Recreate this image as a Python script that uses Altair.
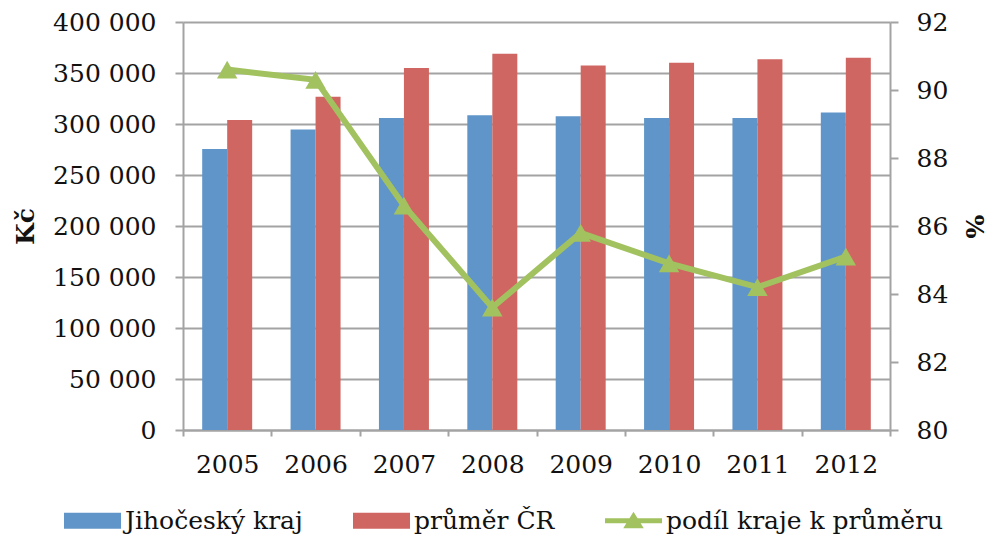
import altair as alt
import pandas as pd

years = ["2005", "2006", "2007", "2008", "2009", "2010", "2011", "2012"]
jihocesky = [275500, 294700, 306000, 308500, 307500, 306000, 306000, 311200]
prumer_cr = [304000, 326600, 354800, 368900, 357400, 360000, 363600, 365000]
podil = [90.6, 90.3, 86.6, 83.6, 85.8, 84.9, 84.2, 85.1]
series_names = ["Jihočeský kraj", "průměr ČR", "podíl kraje k průměru"]
colors = ["#6095C9", "#CF6661", "#A2C260"]
left_ticks = list(range(0, 400001, 50000))
right_ticks = [80, 82, 84, 86, 88, 90, 92]

bars_df = pd.DataFrame(
    [{"year": y, "series": series_names[0], "value": v} for y, v in zip(years, jihocesky)]
    + [{"year": y, "series": series_names[1], "value": v} for y, v in zip(years, prumer_cr)]
)
line_df = pd.DataFrame({"year": years, "series": series_names[2], "value": podil})

FONT = "DejaVu Serif"
GRAY = "#A3A3A3"

rect_path = "M-1,-0.28L1,-0.28L1,0.28L-1,0.28Z"
line_path = "M-1,-0.09L1,-0.09L1,0.09L-1,0.09Z M0,-0.32L0.36,0.26L-0.36,0.26Z"

legend = alt.Legend(
    title=None,
    orient="none",
    legendX=-119,
    legendY=470,
    direction="horizontal",
    columns=3,
    columnPadding=50,
    symbolSize=3249,
    symbolStrokeWidth=0,
    symbolOpacity=1,
    symbolType={"expr": "datum.index === 2 ? '" + line_path + "' : '" + rect_path + "'"},
    symbolFillColor={"expr": "scale('color', datum.value)"},
    labelOffset=4,
    labelFont=FONT,
    labelFontSize=25,
    labelColor="#111111",
    labelLimit=500,
)

color = alt.Color(
    "series:N",
    scale=alt.Scale(domain=series_names, range=colors),
    legend=legend,
)

x = alt.X(
    "year:O",
    sort=years,
    scale=alt.Scale(paddingInner=0, paddingOuter=0),
    axis=alt.Axis(
        title=None,
        labelAngle=0,
        tickBand="extent",
        tickSize=6,
        tickWidth=2,
        tickColor=GRAY,
        domainColor=GRAY,
        domainWidth=2,
        labelPadding=16,
        grid=False,
    ),
)

bars = alt.Chart(bars_df).mark_bar().encode(
    x=x,
    xOffset=alt.XOffset(
        "series:N",
        sort=series_names[:2],
        scale=alt.Scale(paddingInner=0, paddingOuter=0.768),
    ),
    y=alt.Y(
        "value:Q",
        scale=alt.Scale(domain=[0, 400000], nice=False),
        axis=alt.Axis(
            title="Kč",
            values=left_ticks,
            labelExpr="replace(format(datum.value, ','), ',', ' ')",
            grid=True,
            gridColor=GRAY,
            gridWidth=2,
            tickSize=8,
            tickWidth=2,
            tickColor=GRAY,
            domainColor=GRAY,
            domainWidth=2,
            labelPadding=19,
            titleX=-158,
            titleY=204,
            titleAngle=-90,
            titleBaseline="middle",
            titleFontWeight="bold",
        ),
    ),
    color=color,
)

line = alt.Chart(line_df).mark_line(
    strokeWidth=6,
    point=alt.OverlayMarkDef(shape="triangle-up", size=420, filled=True, color=colors[2], opacity=1),
).encode(
    x=x,
    y=alt.Y(
        "value:Q",
        scale=alt.Scale(domain=[80, 92], nice=False),
        axis=alt.Axis(
            title="%",
            orient="right",
            values=right_ticks,
            grid=False,
            tickSize=8,
            tickWidth=2,
            tickColor=GRAY,
            domainColor=GRAY,
            domainWidth=2,
            labelPadding=18,
            titleX=83,
            titleY=204,
            titleAngle=90,
            titleBaseline="middle",
            titleFontWeight="bold",
        ),
    ),
    color=color,
)

chart = (
    alt.layer(bars, line)
    .resolve_scale(y="independent")
    .properties(
        width=707,
        height=408,
        padding={"left": 175, "top": 14, "right": 97, "bottom": 104},
        autosize=alt.AutoSizeParams(type="none"),
        background="white",
    )
    .configure_view(stroke=None)
    .configure_axis(
        labelFont=FONT,
        labelFontSize=25,
        labelColor="#111111",
        titleFont=FONT,
        titleFontSize=25,
        titleColor="#111111",
    )
)

chart.save("out.html", embed_options={"renderer": "svg", "actions": False})
